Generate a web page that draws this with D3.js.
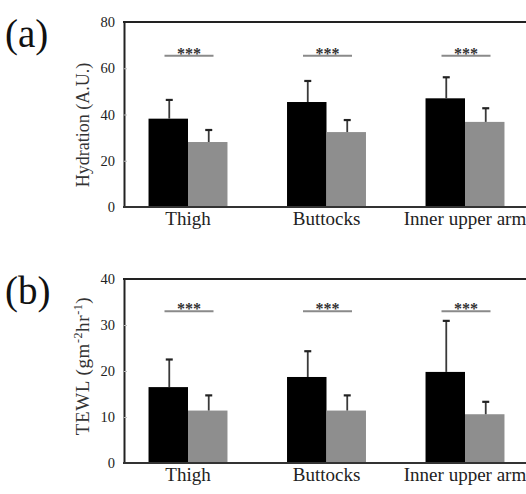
<!DOCTYPE html>
<html>
<head>
<meta charset="utf-8">
<script src="https://cdn.jsdelivr.net/npm/d3@7"></script>
<style>
  body { margin: 0; background: #fff; }
  svg { display: block; font-family: "Liberation Serif", "DejaVu Serif", serif; }
</style>
</head>
<body>
<svg id="chart" width="526" height="494"></svg>
<script>
// sites along the x axis and the two groups
const sites = ["Thigh", "Buttocks", "Inner upper arm"];
const groups = ["g1", "g2"];
const groupColors = ["#000000", "#8e8e8e"];

// (a) hydration, mean and SD
const hydrationMean = [[38.2, 28.1], [45.4, 32.4], [47.0, 36.8]];
const hydrationSd = [[8.1, 5.2], [9.1, 5.2], [9.1, 5.9]];
const hydrationSig = [65.4, 65.4, 65.4];
const hydrationTicks = [0, 20, 40, 60, 80];

// (b) TEWL, mean and SD
const tewlMean = [[16.5, 11.4], [18.7, 11.4], [19.8, 10.6]];
const tewlSd = [[6.0, 3.3], [5.6, 3.3], [11.1, 2.7]];
const tewlSig = [33.0, 33.0, 33.0];
const tewlTicks = [0, 10, 20, 30, 40];

const svg = d3.select("#chart");

// shared x scales
const x = d3.scaleBand().domain(sites).range([118.75, 534.25])
    .paddingInner(0.43).paddingOuter(0.215);
const xInner = d3.scaleBand().domain(groups).range([0, x.bandwidth()]);

function drawPanel(cfg) {
    const y = d3.scaleLinear().domain([0, cfg.max]).range([cfg.bottom, cfg.top]);
    const g = svg.append("g");

    // bars
    sites.forEach((site, i) => {
        groups.forEach((grp, j) => {
            const bx = x(site) + xInner(grp);
            const m = cfg.mean[i][j];
            g.append("rect")
                .attr("x", bx)
                .attr("y", y(m))
                .attr("width", xInner.bandwidth())
                .attr("height", y(0) - y(m))
                .attr("fill", groupColors[j]);
            // error bar
            const cx = bx + xInner.bandwidth() / 2 + 1;
            g.append("line")
                .attr("x1", cx).attr("x2", cx)
                .attr("y1", y(m)).attr("y2", y(m + cfg.sd[i][j]))
                .attr("stroke", "#3a3a3a").attr("stroke-width", 1.8);
            g.append("line")
                .attr("x1", cx - 3.5).attr("x2", cx + 3.5)
                .attr("y1", y(m + cfg.sd[i][j])).attr("y2", y(m + cfg.sd[i][j]))
                .attr("stroke", "#222").attr("stroke-width", 2.2);
        });
        // significance bar
        const c = x(site) + x.bandwidth() / 2 + 1;
        g.append("line")
            .attr("x1", c - 24.5).attr("x2", c + 24.5)
            .attr("y1", y(cfg.sig[i])).attr("y2", y(cfg.sig[i]))
            .attr("stroke", "#8a8a8a").attr("stroke-width", 2);
        g.append("text")
            .attr("x", c).attr("y", y(cfg.sig[i]) + 3)
            .attr("text-anchor", "middle")
            .attr("font-size", 16).attr("font-weight", "bold")
            .attr("fill", "#333")
            .text("***");
    });

    // y axis with little inward ticks
    const yAxis = g.append("g")
        .attr("transform", `translate(124,0)`)
        .call(d3.axisLeft(y).tickValues(cfg.ticks).tickSize(-3).tickPadding(9).tickSizeOuter(0));
    yAxis.select(".domain").attr("stroke", "#222").attr("stroke-width", 2);
    yAxis.selectAll(".tick line").attr("stroke", "#bbb");
    yAxis.selectAll(".tick text")
        .attr("font-family", "Liberation Serif, serif")
        .attr("font-size", 14.5).attr("fill", "#222");

    // frame top + bottom
    g.append("line").attr("x1", 123).attr("x2", 526)
        .attr("y1", y(cfg.max)).attr("y2", y(cfg.max))
        .attr("stroke", "#222").attr("stroke-width", 2);
    g.append("line").attr("x1", 123).attr("x2", 526)
        .attr("y1", y(0)).attr("y2", y(0))
        .attr("stroke", "#333").attr("stroke-width", 2);

    // x labels
    sites.forEach(site => {
        g.append("text")
            .attr("x", x(site) + x.bandwidth() / 2)
            .attr("y", cfg.bottom + 18)
            .attr("text-anchor", "middle")
            .attr("font-size", 19).attr("fill", "#222")
            .text(site);
    });

    // y title
    const yt = g.append("text")
        .attr("transform", `translate(89,${cfg.titleY}) rotate(-90)`)
        .attr("text-anchor", "middle")
        .attr("font-size", cfg.titleSize).attr("fill", "#333");
    cfg.title(yt);

    // panel letter
    g.append("text")
        .attr("x", 5).attr("y", cfg.top + 25)
        .attr("font-size", 39).attr("fill", "#111")
        .text(cfg.letter);
}

drawPanel({
    top: 22, bottom: 207, max: 80,
    mean: hydrationMean, sd: hydrationSd, sig: hydrationSig, ticks: hydrationTicks,
    letter: "(a)", titleY: 125, titleSize: 18,
    title: t => t.text("Hydration (A.U.)")
});

drawPanel({
    top: 279, bottom: 463, max: 40,
    mean: tewlMean, sd: tewlSd, sig: tewlSig, ticks: tewlTicks,
    letter: "(b)", titleY: 366, titleSize: 19,
    title: t => {
        t.attr("letter-spacing", 0.6);
        t.append("tspan").text("TEWL (gm");
        t.append("tspan").attr("baseline-shift", "super").attr("font-size", 12).text("-2");
        t.append("tspan").text("hr");
        t.append("tspan").attr("baseline-shift", "super").attr("font-size", 12).text("-1");
        t.append("tspan").text(")");
    }
});
</script>
</body>
</html>
